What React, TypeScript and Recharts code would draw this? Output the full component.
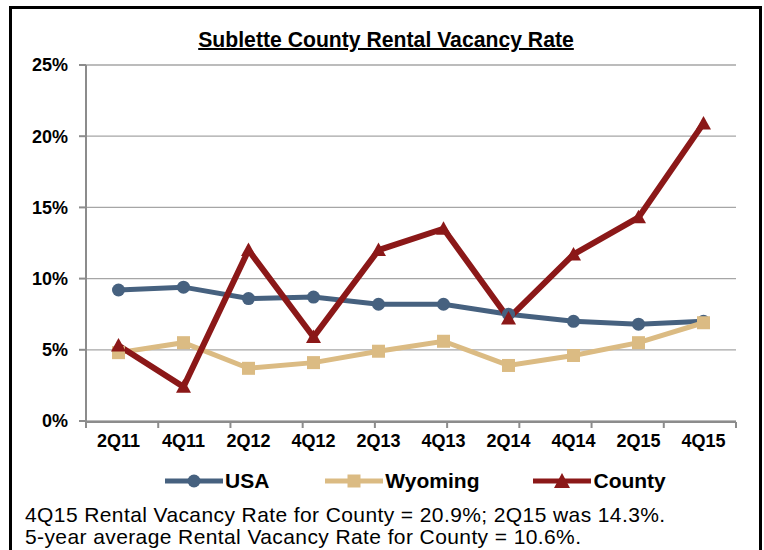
import React from 'react';
import { LineChart, Line, XAxis, YAxis, CartesianGrid, Legend } from 'recharts';

const quarters = ['2Q11', '4Q11', '2Q12', '4Q12', '2Q13', '4Q13', '2Q14', '4Q14', '2Q15', '4Q15'];
const usa = [9.2, 9.4, 8.6, 8.7, 8.2, 8.2, 7.5, 7.0, 6.8, 7.0];
const wyoming = [4.8, 5.5, 3.7, 4.1, 4.9, 5.6, 3.9, 4.6, 5.5, 6.9];
const county = [5.3, 2.4, 12.0, 5.9, 12.0, 13.5, 7.2, 11.7, 14.3, 20.9];
const yTicks = [0, 5, 10, 15, 20, 25];
const boundaryTicks = [0, 1, 2, 3, 4, 5, 6, 7, 8, 9, 10];

const title = 'Sublette County Rental Vacancy Rate';
const note1 = '4Q15 Rental Vacancy Rate for County = 20.9%; 2Q15 was 14.3%.';
const note2 = '5-year average Rental Vacancy Rate for County = 10.6%.';

const C_USA = '#46617f';
const C_WY = '#dbbb83';
const C_CO = '#8b1818';

const data = quarters.map((q, i) => ({ q, USA: usa[i], Wyoming: wyoming[i], County: county[i] }));

const FONT = '"Liberation Sans", Arial, sans-serif';

const SquareDot = (props: any) => {
  const { cx, cy, index } = props;
  if (cx == null || cy == null) return null;
  return <rect key={'s' + index} x={cx - 6.5} y={cy - 6.5} width={13} height={13} fill={C_WY} />;
};

const TriDot = (props: any) => {
  const { cx, cy, index } = props;
  if (cx == null || cy == null) return null;
  const s = 7.5;
  return (
    <polygon
      key={'t' + index}
      points={`${cx},${cy - s} ${cx + s},${cy + s * 0.8} ${cx - s},${cy + s * 0.8}`}
      fill={C_CO}
    />
  );
};

const legendItems = [
  { name: 'USA', color: C_USA, shape: 'circle', gap: 56 },
  { name: 'Wyoming', color: C_WY, shape: 'square', gap: 54 },
  { name: 'County', color: C_CO, shape: 'triangle', gap: 0 },
];

const renderLegend = () => (
  <div style={{ display: 'flex', alignItems: 'center', paddingLeft: 165, fontFamily: FONT }}>
    {legendItems.map((it) => (
      <div key={it.name} style={{ display: 'flex', alignItems: 'center', marginRight: it.gap }}>
        <svg width={58} height={20} style={{ display: 'block' }}>
          <line x1={0} y1={10} x2={58} y2={10} stroke={it.color} strokeWidth={5} strokeLinecap="round" />
          {it.shape === 'circle' && <circle cx={29} cy={10} r={6.5} fill={it.color} />}
          {it.shape === 'square' && <rect x={22.5} y={3.5} width={13} height={13} fill={it.color} />}
          {it.shape === 'triangle' && <polygon points="29,2 37,17 21,17" fill={it.color} />}
        </svg>
        <span style={{ fontWeight: 'bold', fontSize: 21, color: '#000', marginLeft: 2 }}>{it.name}</span>
      </div>
    ))}
  </div>
);

export default function App() {
  return (
    <div style={{ position: 'absolute', left: 0, top: 0, width: 764, height: 550, overflow: 'hidden', background: '#fff' }}>
      <div
        style={{
          position: 'absolute',
          left: 9,
          top: 6,
          width: 753,
          height: 600,
          border: '3px solid #000',
          boxSizing: 'border-box',
        }}
      />
      <div
        style={{
          position: 'absolute',
          left: 0,
          width: 772,
          top: 28,
          lineHeight: '24px',
          textAlign: 'center',
          fontFamily: FONT,
          fontWeight: 'bold',
          fontSize: 21.2,
          textDecoration: 'underline',
          textDecorationThickness: 2,
          color: '#000',
        }}
      >
        {title}
      </div>
      <div style={{ position: 'absolute', left: 0, top: 0 }}>
        <LineChart width={764} height={550} data={data} margin={{ top: 65, right: 28, left: 0, bottom: 127 }}>
          <CartesianGrid xAxisId="grid" vertical={false} stroke="#a6a6a6" strokeWidth={1.3} />
          <XAxis
            xAxisId="grid"
            type="number"
            domain={[0, 10]}
            ticks={boundaryTicks}
            height={1}
            axisLine={{ stroke: '#8c8c8c', strokeWidth: 2 }}
            tickLine={{ stroke: '#8c8c8c', strokeWidth: 2 }}
            tickSize={6}
            tickFormatter={() => ''}
            allowDataOverflow
          />
          <XAxis
            xAxisId="cat"
            dataKey="q"
            height={1}
            padding={{ left: 32.5, right: 32.5 }}
            axisLine={false}
            tickLine={false}
            tickSize={0}
            tickMargin={13}
            interval={0}
            tick={{ fill: '#000', fontFamily: FONT, fontWeight: 'bold', fontSize: 18 }}
          />
          <YAxis
            width={86}
            domain={[0, 25]}
            ticks={yTicks}
            tickFormatter={(v: number) => `${v}%`}
            axisLine={{ stroke: '#8c8c8c', strokeWidth: 2 }}
            tickLine={{ stroke: '#8c8c8c', strokeWidth: 2 }}
            tickSize={7}
            tickMargin={11}
            tick={{ fill: '#000', fontFamily: FONT, fontWeight: 'bold', fontSize: 18 }}
          />
          <Legend
            layout="horizontal"
            verticalAlign="middle"
            align="center"
            content={renderLegend}
            wrapperStyle={{ top: 469, left: 0, width: 764 }}
          />
          <Line
            xAxisId="cat"
            dataKey="USA"
            stroke={C_USA}
            strokeWidth={5}
            dot={{ r: 6.5, fill: C_USA, stroke: 'none' }}
            activeDot={false}
            isAnimationActive={false}
          />
          <Line
            xAxisId="cat"
            dataKey="Wyoming"
            stroke={C_WY}
            strokeWidth={5}
            dot={SquareDot}
            activeDot={false}
            isAnimationActive={false}
          />
          <Line
            xAxisId="cat"
            dataKey="County"
            stroke={C_CO}
            strokeWidth={6}
            dot={TriDot}
            activeDot={false}
            isAnimationActive={false}
          />
        </LineChart>
      </div>
      <div
        style={{
          position: 'absolute',
          left: 25,
          top: 504,
          fontFamily: FONT,
          fontSize: 21,
          lineHeight: '21.5px',
          letterSpacing: 0.4,
          color: '#000',
          whiteSpace: 'nowrap',
        }}
      >
        <div>{note1}</div>
        <div>{note2}</div>
      </div>
    </div>
  );
}
